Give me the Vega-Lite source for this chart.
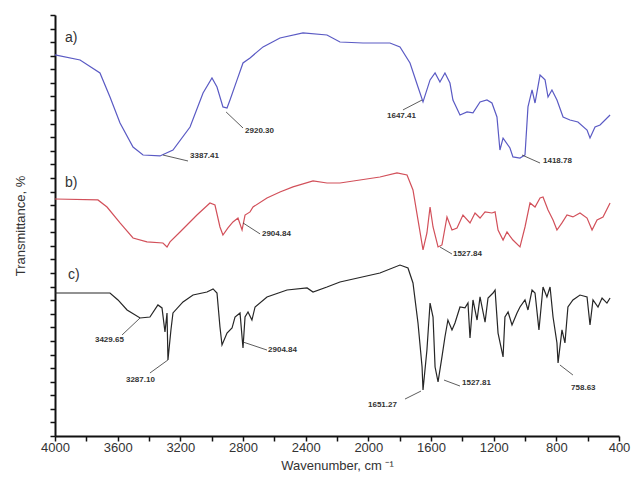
{
  "$schema": "https://vega.github.io/schema/vega-lite/v6.json",
  "width": 564,
  "height": 421,
  "autosize": "none",
  "padding": {"left": 55, "top": 15, "right": 16, "bottom": 45},
  "background": "white",
  "config": {
    "view": {"stroke": null},
    "font": "Liberation Sans"
  },
  "datasets": {
    "spectra": [
      {"s":"a","v":4000,"t":28.06},{"s":"a","v":3840,"t":27.69},{"s":"a","v":3713,"t":26.73},{"s":"a","v":3649,"t":24.96},{"s":"a","v":3585,"t":23.05},{"s":"a","v":3502,"t":21.28},{"s":"a","v":3438,"t":20.69},{"s":"a","v":3330,"t":20.62},{"s":"a","v":3247,"t":21.06},{"s":"a","v":3138,"t":22.75},{"s":"a","v":3055,"t":25.26},{"s":"a","v":2998,"t":26.36},{"s":"a","v":2966,"t":25.7},{"s":"a","v":2928,"t":24.23},{"s":"a","v":2902,"t":24.15},{"s":"a","v":2883,"t":24.74},{"s":"a","v":2838,"t":26.22},{"s":"a","v":2800,"t":27.47},{"s":"a","v":2755,"t":27.84},{"s":"a","v":2672,"t":28.65},{"s":"a","v":2564,"t":29.31},{"s":"a","v":2417,"t":29.68},{"s":"a","v":2264,"t":29.53},{"s":"a","v":2181,"t":29.01},{"s":"a","v":2034,"t":28.94},{"s":"a","v":1862,"t":28.94},{"s":"a","v":1798,"t":28.65},{"s":"a","v":1734,"t":27.47},{"s":"a","v":1683,"t":25.7},{"s":"a","v":1651,"t":24.6},{"s":"a","v":1606,"t":26.22},{"s":"a","v":1574,"t":26.73},{"s":"a","v":1543,"t":26.07},{"s":"a","v":1511,"t":26.73},{"s":"a","v":1479,"t":25.99},{"s":"a","v":1460,"t":24.74},{"s":"a","v":1415,"t":23.64},{"s":"a","v":1370,"t":23.86},{"s":"a","v":1332,"t":23.79},{"s":"a","v":1287,"t":24.6},{"s":"a","v":1243,"t":24.74},{"s":"a","v":1211,"t":24.52},{"s":"a","v":1179,"t":23.49},{"s":"a","v":1160,"t":21.06},{"s":"a","v":1140,"t":21.94},{"s":"a","v":1096,"t":21.21},{"s":"a","v":1077,"t":20.55},{"s":"a","v":1032,"t":20.47},{"s":"a","v":1000,"t":20.69},{"s":"a","v":981,"t":24.23},{"s":"a","v":955,"t":25.48},{"s":"a","v":936,"t":24.52},{"s":"a","v":904,"t":26.58},{"s":"a","v":872,"t":26.22},{"s":"a","v":853,"t":24.96},{"s":"a","v":828,"t":25.48},{"s":"a","v":796,"t":24.74},{"s":"a","v":757,"t":23.49},{"s":"a","v":713,"t":23.27},{"s":"a","v":662,"t":23.12},{"s":"a","v":604,"t":22.53},{"s":"a","v":585,"t":21.94},{"s":"a","v":553,"t":22.75},{"s":"a","v":521,"t":22.9},{"s":"a","v":457,"t":23.64},
      {"s":"b","v":4000,"t":17.45},{"s":"b","v":3726,"t":17.38},{"s":"b","v":3668,"t":16.86},{"s":"b","v":3585,"t":15.69},{"s":"b","v":3502,"t":14.58},{"s":"b","v":3413,"t":14.29},{"s":"b","v":3311,"t":14.21},{"s":"b","v":3285,"t":13.92},{"s":"b","v":3266,"t":14.29},{"s":"b","v":3202,"t":15.02},{"s":"b","v":3094,"t":16.27},{"s":"b","v":3011,"t":17.16},{"s":"b","v":2979,"t":17.01},{"s":"b","v":2947,"t":15.39},{"s":"b","v":2928,"t":14.8},{"s":"b","v":2896,"t":15.32},{"s":"b","v":2864,"t":15.76},{"s":"b","v":2832,"t":16.05},{"s":"b","v":2806,"t":15.17},{"s":"b","v":2787,"t":16.27},{"s":"b","v":2755,"t":16.5},{"s":"b","v":2736,"t":16.86},{"s":"b","v":2647,"t":17.53},{"s":"b","v":2564,"t":17.97},{"s":"b","v":2481,"t":18.34},{"s":"b","v":2353,"t":18.78},{"s":"b","v":2264,"t":18.63},{"s":"b","v":2181,"t":18.63},{"s":"b","v":1926,"t":19.07},{"s":"b","v":1817,"t":19.37},{"s":"b","v":1753,"t":19.22},{"s":"b","v":1715,"t":18.12},{"s":"b","v":1683,"t":15.91},{"s":"b","v":1651,"t":13.7},{"s":"b","v":1626,"t":14.95},{"s":"b","v":1606,"t":16.86},{"s":"b","v":1587,"t":15.39},{"s":"b","v":1555,"t":13.92},{"s":"b","v":1530,"t":14.07},{"s":"b","v":1498,"t":16.13},{"s":"b","v":1466,"t":15.17},{"s":"b","v":1434,"t":15.32},{"s":"b","v":1396,"t":16.27},{"s":"b","v":1351,"t":15.69},{"s":"b","v":1319,"t":16.42},{"s":"b","v":1287,"t":16.05},{"s":"b","v":1255,"t":16.5},{"s":"b","v":1211,"t":16.42},{"s":"b","v":1191,"t":16.5},{"s":"b","v":1172,"t":15.17},{"s":"b","v":1140,"t":14.43},{"s":"b","v":1115,"t":15.02},{"s":"b","v":1077,"t":14.43},{"s":"b","v":1032,"t":13.92},{"s":"b","v":1000,"t":15.39},{"s":"b","v":968,"t":17.16},{"s":"b","v":936,"t":16.86},{"s":"b","v":904,"t":17.53},{"s":"b","v":885,"t":17.6},{"s":"b","v":853,"t":16.64},{"s":"b","v":821,"t":15.91},{"s":"b","v":796,"t":15.17},{"s":"b","v":764,"t":15.69},{"s":"b","v":732,"t":16.27},{"s":"b","v":694,"t":16.13},{"s":"b","v":649,"t":16.42},{"s":"b","v":604,"t":16.05},{"s":"b","v":572,"t":15.17},{"s":"b","v":540,"t":15.91},{"s":"b","v":502,"t":16.13},{"s":"b","v":457,"t":17.16},
      {"s":"c","v":4000,"t":10.53},{"s":"c","v":3649,"t":10.53},{"s":"c","v":3598,"t":10.02},{"s":"c","v":3540,"t":9.28},{"s":"c","v":3457,"t":8.69},{"s":"c","v":3394,"t":8.76},{"s":"c","v":3343,"t":9.65},{"s":"c","v":3317,"t":9.43},{"s":"c","v":3298,"t":7.66},{"s":"c","v":3285,"t":9.06},{"s":"c","v":3279,"t":5.6},{"s":"c","v":3260,"t":7.81},{"s":"c","v":3247,"t":9.06},{"s":"c","v":3183,"t":9.87},{"s":"c","v":3119,"t":10.38},{"s":"c","v":3030,"t":10.6},{"s":"c","v":2991,"t":10.83},{"s":"c","v":2966,"t":10.53},{"s":"c","v":2947,"t":8.03},{"s":"c","v":2934,"t":6.7},{"s":"c","v":2902,"t":7.58},{"s":"c","v":2870,"t":7.95},{"s":"c","v":2851,"t":8.76},{"s":"c","v":2819,"t":9.06},{"s":"c","v":2800,"t":6.48},{"s":"c","v":2787,"t":8.76},{"s":"c","v":2768,"t":9.13},{"s":"c","v":2743,"t":8.54},{"s":"c","v":2723,"t":9.5},{"s":"c","v":2647,"t":10.24},{"s":"c","v":2519,"t":10.75},{"s":"c","v":2391,"t":10.9},{"s":"c","v":2353,"t":10.6},{"s":"c","v":2264,"t":10.97},{"s":"c","v":2181,"t":11.34},{"s":"c","v":1926,"t":12.0},{"s":"c","v":1798,"t":12.59},{"s":"c","v":1747,"t":12.37},{"s":"c","v":1715,"t":11.27},{"s":"c","v":1683,"t":8.32},{"s":"c","v":1657,"t":5.08},{"s":"c","v":1651,"t":3.39},{"s":"c","v":1626,"t":6.33},{"s":"c","v":1606,"t":9.79},{"s":"c","v":1587,"t":8.76},{"s":"c","v":1574,"t":5.08},{"s":"c","v":1555,"t":3.98},{"s":"c","v":1530,"t":5.82},{"s":"c","v":1511,"t":7.29},{"s":"c","v":1492,"t":8.54},{"s":"c","v":1466,"t":7.81},{"s":"c","v":1447,"t":8.32},{"s":"c","v":1415,"t":9.5},{"s":"c","v":1383,"t":9.43},{"s":"c","v":1364,"t":9.79},{"s":"c","v":1351,"t":7.22},{"s":"c","v":1332,"t":10.02},{"s":"c","v":1306,"t":8.54},{"s":"c","v":1287,"t":10.24},{"s":"c","v":1255,"t":8.39},{"s":"c","v":1236,"t":10.16},{"s":"c","v":1204,"t":10.53},{"s":"c","v":1191,"t":10.75},{"s":"c","v":1172,"t":7.58},{"s":"c","v":1140,"t":5.82},{"s":"c","v":1128,"t":8.76},{"s":"c","v":1108,"t":9.13},{"s":"c","v":1083,"t":8.17},{"s":"c","v":1051,"t":9.06},{"s":"c","v":1032,"t":9.5},{"s":"c","v":1000,"t":10.02},{"s":"c","v":981,"t":9.28},{"s":"c","v":955,"t":10.75},{"s":"c","v":936,"t":10.53},{"s":"c","v":911,"t":7.81},{"s":"c","v":885,"t":10.97},{"s":"c","v":860,"t":10.24},{"s":"c","v":840,"t":10.97},{"s":"c","v":821,"t":8.76},{"s":"c","v":796,"t":6.85},{"s":"c","v":789,"t":5.38},{"s":"c","v":764,"t":7.81},{"s":"c","v":745,"t":6.85},{"s":"c","v":726,"t":9.5},{"s":"c","v":694,"t":10.02},{"s":"c","v":649,"t":10.38},{"s":"c","v":604,"t":10.24},{"s":"c","v":585,"t":8.17},{"s":"c","v":566,"t":10.02},{"s":"c","v":534,"t":9.5},{"s":"c","v":508,"t":10.16},{"s":"c","v":477,"t":9.79},{"s":"c","v":457,"t":10.16}
    ],
    "peaks": [
      {"label":"3387.41","v":3138,"t":20.62,"v1":3311,"t1":20.69,"v2":3151,"t2":20.25},
      {"label":"2920.30","v":2787,"t":22.46,"v1":2908,"t1":23.86,"v2":2800,"t2":22.68},
      {"label":"1647.41","v":1881,"t":23.56,"v1":1779,"t1":24.01,"v2":1657,"t2":24.74},
      {"label":"1418.78","v":885,"t":20.25,"v1":1019,"t1":20.69,"v2":904,"t2":20.1},
      {"label":"2904.84","v":2679,"t":14.88,"v1":2800,"t1":15.69,"v2":2691,"t2":14.88},
      {"label":"1527.84","v":1460,"t":13.4,"v1":1543,"t1":13.92,"v2":1466,"t2":13.4},
      {"label":"3429.65","v":3745,"t":7.07,"v1":3457,"t1":8.69,"v2":3572,"t2":7.44},
      {"label":"3287.10","v":3547,"t":4.12,"v1":3279,"t1":5.6,"v2":3394,"t2":4.64},
      {"label":"2904.84","v":2640,"t":6.33,"v1":2800,"t1":6.92,"v2":2647,"t2":6.33},
      {"label":"1651.27","v":2002,"t":2.28,"v1":1664,"t1":3.31,"v2":1766,"t2":2.72},
      {"label":"1527.81","v":1402,"t":3.9,"v1":1517,"t1":4.12,"v2":1415,"t2":3.68},
      {"label":"758.63","v":706,"t":3.53,"v1":777,"t1":5.23,"v2":694,"t2":4.49}
    ],
    "tags": [
      {"label":"a)","v":3936,"t":29.31},
      {"label":"b)","v":3936,"t":18.63},
      {"label":"c)","v":3917,"t":11.86}
    ]
  },
  "layer": [
    {
      "data": {"name": "spectra"},
      "mark": {"type": "line", "strokeWidth": 1.2, "interpolate": "linear"},
      "encoding": {
        "x": {
          "field": "v", "type": "quantitative",
          "scale": {"domain": [4000, 400], "nice": false, "zero": false},
          "axis": {
            "title": "Wavenumber, cm ⁻¹",
            "values": [4000,3800,3600,3400,3200,3000,2800,2600,2400,2200,2000,1800,1600,1400,1200,1000,800,600,400],
            "tickCount": 40,
            "labelExpr": "datum.value % 400 === 0 ? datum.label : ''",
            "labelOverlap": false,
            "format": "d",
            "grid": false,
            "domainColor": "#111", "domainWidth": 2,
            "tickColor": "#111", "tickWidth": 1.5, "tickSize": 5,
            "labelFont": "Liberation Sans", "labelFontSize": 13, "labelColor": "#333", "labelPadding": 0,
            "labelFlush": false,
            "titleFont": "Liberation Sans", "titleFontSize": 13, "titleFontWeight": "normal", "titleColor": "#333", "titlePadding": 5
          }
        },
        "y": {
          "field": "t", "type": "quantitative",
          "scale": {"domain": [0, 31], "nice": false, "zero": false},
          "axis": {
            "title": "Transmittance, %",
            "values": [0,1,2,3,4,5,6,7,8,9,10,11,12,13,14,15,16,17,18,19,20,21,22,23,24,25,26,27,28,29,30,31],
            "tickCount": 64,
            "labels": false,
            "labelOverlap": false,
            "grid": false,
            "domainColor": "#111", "domainWidth": 2,
            "tickColor": "#111", "tickWidth": 1.5, "tickSize": 5,
            "titleFont": "Liberation Sans", "titleFontSize": 13, "titleFontWeight": "normal", "titleColor": "#333", "titlePadding": 22
          }
        },
        "color": {
          "field": "s", "type": "nominal",
          "scale": {"domain": ["a","b","c"], "range": ["#5a5ac4", "#d2505a", "#262626"]},
          "legend": null
        }
      }
    },
    {
      "data": {"name": "peaks"},
      "mark": {"type": "rule", "color": "#333", "strokeWidth": 0.8},
      "encoding": {
        "x": {"field": "v1", "type": "quantitative"},
        "y": {"field": "t1", "type": "quantitative"},
        "x2": {"field": "v2"},
        "y2": {"field": "t2"}
      }
    },
    {
      "data": {"name": "peaks"},
      "mark": {"type": "text", "align": "left", "baseline": "middle", "fontSize": 8, "fontWeight": "bold", "color": "#333", "font": "Liberation Sans"},
      "encoding": {
        "x": {"field": "v", "type": "quantitative"},
        "y": {"field": "t", "type": "quantitative"},
        "text": {"field": "label"}
      }
    },
    {
      "data": {"name": "tags"},
      "mark": {"type": "text", "align": "left", "baseline": "middle", "fontSize": 14, "color": "#333", "font": "Liberation Sans"},
      "encoding": {
        "x": {"field": "v", "type": "quantitative"},
        "y": {"field": "t", "type": "quantitative"},
        "text": {"field": "label"}
      }
    }
  ]
}
